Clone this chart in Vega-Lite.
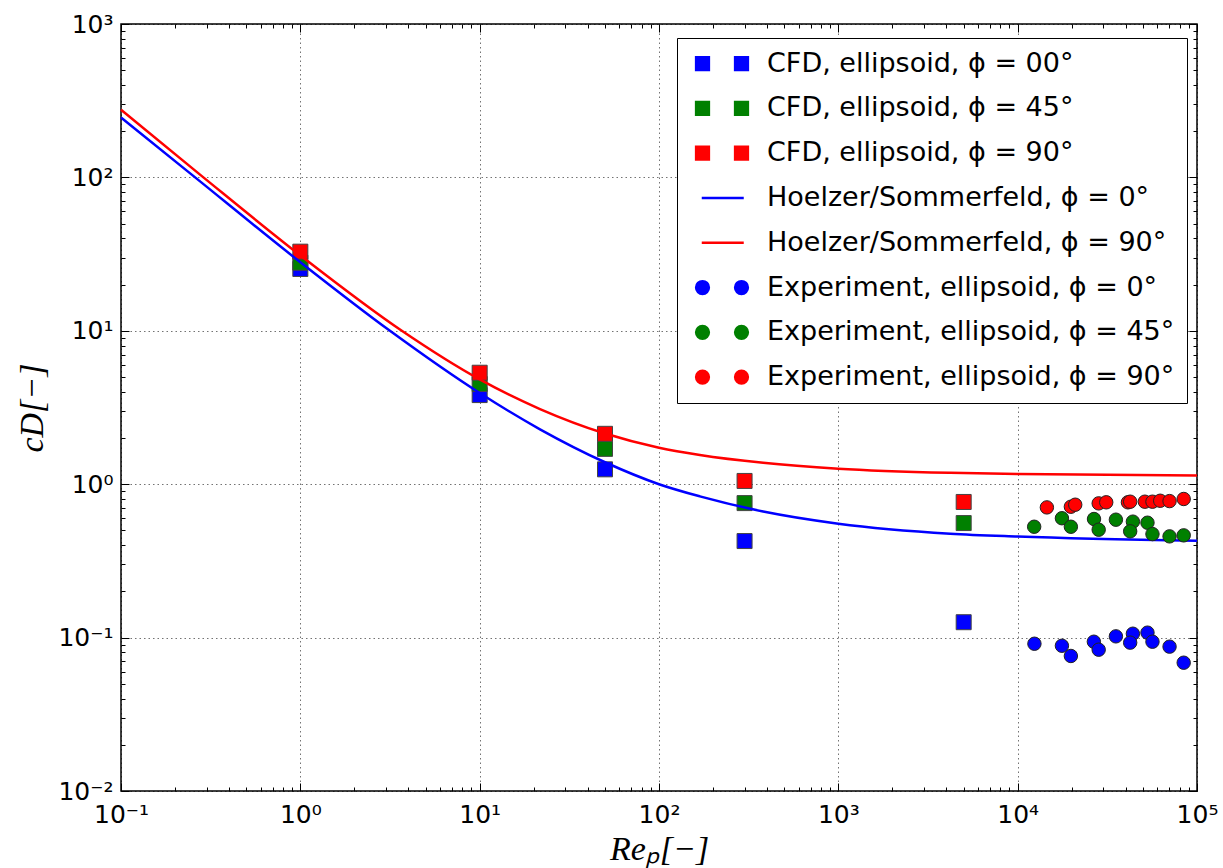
{
  "$schema": "https://vega.github.io/schema/vega-lite/v6.json",
  "width": 1076,
  "height": 767,
  "autosize": {"type": "none"},
  "padding": {"left": 121, "top": 24, "right": 26, "bottom": 77},
  "background": "white",
  "datasets": {
    "cfd": [
      {"Re": 1, "cD": 25.3, "series": "CFD, ellipsoid, ϕ = 00°"},
      {"Re": 10, "cD": 3.81, "series": "CFD, ellipsoid, ϕ = 00°"},
      {"Re": 50, "cD": 1.25, "series": "CFD, ellipsoid, ϕ = 00°"},
      {"Re": 300, "cD": 0.426, "series": "CFD, ellipsoid, ϕ = 00°"},
      {"Re": 5000, "cD": 0.126, "series": "CFD, ellipsoid, ϕ = 00°"},
      {"Re": 1, "cD": 27.8, "series": "CFD, ellipsoid, ϕ = 45°"},
      {"Re": 10, "cD": 4.5, "series": "CFD, ellipsoid, ϕ = 45°"},
      {"Re": 50, "cD": 1.7, "series": "CFD, ellipsoid, ϕ = 45°"},
      {"Re": 300, "cD": 0.753, "series": "CFD, ellipsoid, ϕ = 45°"},
      {"Re": 5000, "cD": 0.558, "series": "CFD, ellipsoid, ϕ = 45°"},
      {"Re": 1, "cD": 32.8, "series": "CFD, ellipsoid, ϕ = 90°"},
      {"Re": 10, "cD": 5.33, "series": "CFD, ellipsoid, ϕ = 90°"},
      {"Re": 50, "cD": 2.13, "series": "CFD, ellipsoid, ϕ = 90°"},
      {"Re": 300, "cD": 1.05, "series": "CFD, ellipsoid, ϕ = 90°"},
      {"Re": 5000, "cD": 0.766, "series": "CFD, ellipsoid, ϕ = 90°"}
    ],
    "hoelzer": [
      {"Re": 0.1, "cD": 246, "series": "Hoelzer/Sommerfeld, ϕ = 0°"},
      {"Re": 0.259, "cD": 100, "series": "Hoelzer/Sommerfeld, ϕ = 0°"},
      {"Re": 1, "cD": 28, "series": "Hoelzer/Sommerfeld, ϕ = 0°"},
      {"Re": 3.16, "cD": 10, "series": "Hoelzer/Sommerfeld, ϕ = 0°"},
      {"Re": 10, "cD": 3.93, "series": "Hoelzer/Sommerfeld, ϕ = 0°"},
      {"Re": 21.7, "cD": 2.28, "series": "Hoelzer/Sommerfeld, ϕ = 0°"},
      {"Re": 50, "cD": 1.39, "series": "Hoelzer/Sommerfeld, ϕ = 0°"},
      {"Re": 100, "cD": 1.0, "series": "Hoelzer/Sommerfeld, ϕ = 0°"},
      {"Re": 169, "cD": 0.833, "series": "Hoelzer/Sommerfeld, ϕ = 0°"},
      {"Re": 381, "cD": 0.664, "series": "Hoelzer/Sommerfeld, ϕ = 0°"},
      {"Re": 1000, "cD": 0.553, "series": "Hoelzer/Sommerfeld, ϕ = 0°"},
      {"Re": 4207, "cD": 0.476, "series": "Hoelzer/Sommerfeld, ϕ = 0°"},
      {"Re": 10000, "cD": 0.456, "series": "Hoelzer/Sommerfeld, ϕ = 0°"},
      {"Re": 100000, "cD": 0.428, "series": "Hoelzer/Sommerfeld, ϕ = 0°"},
      {"Re": 0.1, "cD": 276, "series": "Hoelzer/Sommerfeld, ϕ = 90°"},
      {"Re": 0.288, "cD": 100, "series": "Hoelzer/Sommerfeld, ϕ = 90°"},
      {"Re": 1, "cD": 31, "series": "Hoelzer/Sommerfeld, ϕ = 90°"},
      {"Re": 3.68, "cD": 10, "series": "Hoelzer/Sommerfeld, ϕ = 90°"},
      {"Re": 10, "cD": 4.82, "series": "Hoelzer/Sommerfeld, ϕ = 90°"},
      {"Re": 21.7, "cD": 3.09, "series": "Hoelzer/Sommerfeld, ϕ = 90°"},
      {"Re": 50, "cD": 2.14, "series": "Hoelzer/Sommerfeld, ϕ = 90°"},
      {"Re": 100, "cD": 1.73, "series": "Hoelzer/Sommerfeld, ϕ = 90°"},
      {"Re": 169, "cD": 1.55, "series": "Hoelzer/Sommerfeld, ϕ = 90°"},
      {"Re": 381, "cD": 1.378, "series": "Hoelzer/Sommerfeld, ϕ = 90°"},
      {"Re": 1000, "cD": 1.262, "series": "Hoelzer/Sommerfeld, ϕ = 90°"},
      {"Re": 4207, "cD": 1.186, "series": "Hoelzer/Sommerfeld, ϕ = 90°"},
      {"Re": 10000, "cD": 1.165, "series": "Hoelzer/Sommerfeld, ϕ = 90°"},
      {"Re": 100000, "cD": 1.141, "series": "Hoelzer/Sommerfeld, ϕ = 90°"}
    ],
    "experiment": [
      {"Re": 12400, "cD": 0.0912, "series": "Experiment, ellipsoid, ϕ = 0°"},
      {"Re": 17650, "cD": 0.0885, "series": "Experiment, ellipsoid, ϕ = 0°"},
      {"Re": 19800, "cD": 0.0759, "series": "Experiment, ellipsoid, ϕ = 0°"},
      {"Re": 26600, "cD": 0.094, "series": "Experiment, ellipsoid, ϕ = 0°"},
      {"Re": 28300, "cD": 0.0834, "series": "Experiment, ellipsoid, ϕ = 0°"},
      {"Re": 35300, "cD": 0.1019, "series": "Experiment, ellipsoid, ϕ = 0°"},
      {"Re": 43900, "cD": 0.106, "series": "Experiment, ellipsoid, ϕ = 0°"},
      {"Re": 42400, "cD": 0.0927, "series": "Experiment, ellipsoid, ϕ = 0°"},
      {"Re": 52950, "cD": 0.1077, "series": "Experiment, ellipsoid, ϕ = 0°"},
      {"Re": 56450, "cD": 0.094, "series": "Experiment, ellipsoid, ϕ = 0°"},
      {"Re": 70300, "cD": 0.0873, "series": "Experiment, ellipsoid, ϕ = 0°"},
      {"Re": 84300, "cD": 0.0686, "series": "Experiment, ellipsoid, ϕ = 0°"},
      {"Re": 12360, "cD": 0.528, "series": "Experiment, ellipsoid, ϕ = 45°"},
      {"Re": 17650, "cD": 0.6, "series": "Experiment, ellipsoid, ϕ = 45°"},
      {"Re": 19800, "cD": 0.528, "series": "Experiment, ellipsoid, ϕ = 45°"},
      {"Re": 26650, "cD": 0.593, "series": "Experiment, ellipsoid, ϕ = 45°"},
      {"Re": 28300, "cD": 0.505, "series": "Experiment, ellipsoid, ϕ = 45°"},
      {"Re": 35300, "cD": 0.587, "series": "Experiment, ellipsoid, ϕ = 45°"},
      {"Re": 43900, "cD": 0.57, "series": "Experiment, ellipsoid, ϕ = 45°"},
      {"Re": 42400, "cD": 0.493, "series": "Experiment, ellipsoid, ϕ = 45°"},
      {"Re": 52950, "cD": 0.561, "series": "Experiment, ellipsoid, ϕ = 45°"},
      {"Re": 56450, "cD": 0.473, "series": "Experiment, ellipsoid, ϕ = 45°"},
      {"Re": 70300, "cD": 0.457, "series": "Experiment, ellipsoid, ϕ = 45°"},
      {"Re": 84300, "cD": 0.464, "series": "Experiment, ellipsoid, ϕ = 45°"},
      {"Re": 14550, "cD": 0.706, "series": "Experiment, ellipsoid, ϕ = 90°"},
      {"Re": 19800, "cD": 0.713, "series": "Experiment, ellipsoid, ϕ = 90°"},
      {"Re": 20940, "cD": 0.735, "series": "Experiment, ellipsoid, ϕ = 90°"},
      {"Re": 28300, "cD": 0.75, "series": "Experiment, ellipsoid, ϕ = 90°"},
      {"Re": 31180, "cD": 0.762, "series": "Experiment, ellipsoid, ϕ = 90°"},
      {"Re": 41200, "cD": 0.762, "series": "Experiment, ellipsoid, ϕ = 90°"},
      {"Re": 42400, "cD": 0.769, "series": "Experiment, ellipsoid, ϕ = 90°"},
      {"Re": 51200, "cD": 0.769, "series": "Experiment, ellipsoid, ϕ = 90°"},
      {"Re": 56450, "cD": 0.769, "series": "Experiment, ellipsoid, ϕ = 90°"},
      {"Re": 62350, "cD": 0.78, "series": "Experiment, ellipsoid, ϕ = 90°"},
      {"Re": 70300, "cD": 0.776, "series": "Experiment, ellipsoid, ϕ = 90°"},
      {"Re": 84300, "cD": 0.801, "series": "Experiment, ellipsoid, ϕ = 90°"}
    ]
  },
  "encoding": {
    "color": {
      "field": "series",
      "type": "nominal",
      "scale": {
        "domain": [
          "CFD, ellipsoid, ϕ = 00°",
          "CFD, ellipsoid, ϕ = 45°",
          "CFD, ellipsoid, ϕ = 90°",
          "Hoelzer/Sommerfeld, ϕ = 0°",
          "Hoelzer/Sommerfeld, ϕ = 90°",
          "Experiment, ellipsoid, ϕ = 0°",
          "Experiment, ellipsoid, ϕ = 45°",
          "Experiment, ellipsoid, ϕ = 90°"
        ],
        "range": ["#0000ff", "#008000", "#ff0000", "#0000ff", "#ff0000", "#0000ff", "#008000", "#ff0000"]
      },
      "legend": {
        "orient": "none",
        "legendX": 556,
        "legendY": 14,
        "title": null,
        "labelFont": "DejaVu Sans",
        "labelFontSize": 27,
        "labelColor": "#000",
        "labelLimit": 0,
        "labelOffset": 51,
        "symbolSize": 225,
        "symbolStrokeWidth": 2.5,
        "symbolOpacity": 1,
        "rowPadding": 16.8,
        "padding": 12,
        "strokeColor": "#000",
        "fillColor": "#fff"
      }
    }
  },
  "layer": [
    {
      "data": {"name": "cfd"},
      "transform": [{"filter": "datum.Re < 0"}],
      "mark": {"type": "point", "filled": true, "opacity": 1},
      "encoding": {
        "x": {"field": "Re", "type": "quantitative", "scale": {"type": "log", "domain": [0.1, 100000], "nice": false}, "axis": null},
        "y": {"field": "cD", "type": "quantitative", "scale": {"type": "log", "domain": [0.01, 1000], "nice": false}, "axis": null},
        "shape": {
          "field": "series",
          "type": "nominal",
          "scale": {
            "domain": [
              "CFD, ellipsoid, ϕ = 00°",
              "CFD, ellipsoid, ϕ = 45°",
              "CFD, ellipsoid, ϕ = 90°",
              "Hoelzer/Sommerfeld, ϕ = 0°",
              "Hoelzer/Sommerfeld, ϕ = 90°",
              "Experiment, ellipsoid, ϕ = 0°",
              "Experiment, ellipsoid, ϕ = 45°",
              "Experiment, ellipsoid, ϕ = 90°"
            ],
            "range": [
              "M-0.85,-0.85H0.85V0.85H-0.85Z M4.35,-0.85H6.05V0.85H4.35Z",
              "M-0.85,-0.85H0.85V0.85H-0.85Z M4.35,-0.85H6.05V0.85H4.35Z",
              "M-0.85,-0.85H0.85V0.85H-0.85Z M4.35,-0.85H6.05V0.85H4.35Z",
              "M-0.1,0H5.5",
              "M-0.1,0H5.5",
              "M0.85,0A0.85,0.85 0 1 1 -0.85,0A0.85,0.85 0 1 1 0.85,0Z M6.05,0A0.85,0.85 0 1 1 4.35,0A0.85,0.85 0 1 1 6.05,0Z",
              "M0.85,0A0.85,0.85 0 1 1 -0.85,0A0.85,0.85 0 1 1 0.85,0Z M6.05,0A0.85,0.85 0 1 1 4.35,0A0.85,0.85 0 1 1 6.05,0Z",
              "M0.85,0A0.85,0.85 0 1 1 -0.85,0A0.85,0.85 0 1 1 0.85,0Z M6.05,0A0.85,0.85 0 1 1 4.35,0A0.85,0.85 0 1 1 6.05,0Z"
            ]
          },
          "legend": {
            "orient": "none",
            "legendX": 556,
            "legendY": 14,
            "title": null,
            "labelFont": "DejaVu Sans",
            "labelFontSize": 27,
            "labelColor": "#000",
            "labelLimit": 0,
            "labelOffset": 51,
            "symbolSize": 225,
            "symbolStrokeWidth": 2.5,
            "symbolOpacity": 1,
            "rowPadding": 16.8,
            "padding": 12,
            "strokeColor": "#000",
            "fillColor": "#fff"
          }
        }
      }
    },
    {
      "data": {"name": "cfd"},
      "mark": {"type": "point", "shape": "square", "filled": true, "size": 225, "opacity": 1, "stroke": "#444444", "strokeWidth": 1},
      "encoding": {
        "x": {
          "field": "Re", "type": "quantitative",
          "scale": {"type": "log", "domain": [0.1, 100000], "nice": false},
          "axis": {
            "orient": "bottom",
            "values": [0.1, 1, 10, 100, 1000, 10000, 100000],
            "labelExpr": "'10' + (datum.value < 0.05 ? '⁻²' : datum.value < 0.5 ? '⁻¹' : datum.value < 5 ? '⁰' : datum.value < 50 ? '¹' : datum.value < 500 ? '²' : datum.value < 5000 ? '³' : datum.value < 50000 ? '⁴' : '⁵')",
            "tickSize": -8,
            "labelPadding": 19,
            "labelFlush": false,
            "labelOverlap": false,
            "grid": true,
            "gridColor": "#000",
            "gridOpacity": 0.55,
            "gridDash": [1.5, 3],
            "gridWidth": 1,
            "title": "Reₚ[−]",
            "titleFont": "Liberation Serif",
            "titleFontStyle": "italic",
            "titleFontWeight": "normal",
            "titleFontSize": 34,
            "titlePadding": 5
          }
        },
        "y": {
          "field": "cD", "type": "quantitative",
          "scale": {"type": "log", "domain": [0.01, 1000], "nice": false},
          "axis": {
            "orient": "left",
            "values": [0.01, 0.1, 1, 10, 100, 1000],
            "labelExpr": "'10' + (datum.value < 0.05 ? '⁻²' : datum.value < 0.5 ? '⁻¹' : datum.value < 5 ? '⁰' : datum.value < 50 ? '¹' : datum.value < 500 ? '²' : datum.value < 5000 ? '³' : datum.value < 50000 ? '⁴' : '⁵')",
            "tickSize": -8,
            "labelPadding": 16,
            "labelFlush": false,
            "labelOverlap": false,
            "grid": true,
            "gridColor": "#000",
            "gridOpacity": 0.55,
            "gridDash": [1.5, 3],
            "gridWidth": 1,
            "title": "cD[−]",
            "titleFont": "Liberation Serif",
            "titleFontStyle": "italic",
            "titleFontWeight": "normal",
            "titleFontSize": 34,
            "titlePadding": 8
          }
        }
      }
    },
    {
      "data": {"name": "hoelzer"},
      "transform": [{"filter": "datum.series === 'Hoelzer/Sommerfeld, ϕ = 0°'"}],
      "mark": {"type": "line", "strokeWidth": 2.5, "interpolate": "monotone", "opacity": 1},
      "encoding": {
        "x": {
          "field": "Re", "type": "quantitative",
          "scale": {"type": "log", "domain": [0.1, 100000], "nice": false},
          "axis": {"orient": "top", "values": [0.1, 1, 10, 100, 1000, 10000, 100000], "labels": false, "tickSize": -8, "grid": false, "title": null}
        },
        "y": {
          "field": "cD", "type": "quantitative",
          "scale": {"type": "log", "domain": [0.01, 1000], "nice": false},
          "axis": {"orient": "right", "values": [0.01, 0.1, 1, 10, 100, 1000], "labels": false, "tickSize": -8, "grid": false, "title": null}
        }
      }
    },
    {
      "data": {"name": "hoelzer"},
      "transform": [{"filter": "datum.series === 'Hoelzer/Sommerfeld, ϕ = 90°'"}],
      "mark": {"type": "line", "strokeWidth": 2.5, "interpolate": "monotone", "opacity": 1},
      "encoding": {
        "x": {
          "field": "Re", "type": "quantitative",
          "scale": {"type": "log", "domain": [0.1, 100000], "nice": false},
          "axis": {"orient": "bottom", "values": [0.2, 0.3, 0.4, 0.5, 0.6, 0.7, 0.8, 0.9, 2, 3, 4, 5, 6, 7, 8, 9, 20, 30, 40, 50, 60, 70, 80, 90, 200, 300, 400, 500, 600, 700, 800, 900, 2000, 3000, 4000, 5000, 6000, 7000, 8000, 9000, 20000, 30000, 40000, 50000, 60000, 70000, 80000, 90000], "labels": false, "tickSize": -4, "grid": false, "title": null}
        },
        "y": {
          "field": "cD", "type": "quantitative",
          "scale": {"type": "log", "domain": [0.01, 1000], "nice": false},
          "axis": {"orient": "left", "values": [0.02, 0.03, 0.04, 0.05, 0.06, 0.07, 0.08, 0.09, 0.2, 0.3, 0.4, 0.5, 0.6, 0.7, 0.8, 0.9, 2, 3, 4, 5, 6, 7, 8, 9, 20, 30, 40, 50, 60, 70, 80, 90, 200, 300, 400, 500, 600, 700, 800, 900], "labels": false, "tickSize": -4, "grid": false, "title": null}
        }
      }
    },
    {
      "data": {"name": "experiment"},
      "mark": {"type": "circle", "size": 180, "opacity": 1, "stroke": "#222222", "strokeWidth": 1},
      "encoding": {
        "x": {
          "field": "Re", "type": "quantitative",
          "scale": {"type": "log", "domain": [0.1, 100000], "nice": false},
          "axis": {"orient": "top", "values": [0.2, 0.3, 0.4, 0.5, 0.6, 0.7, 0.8, 0.9, 2, 3, 4, 5, 6, 7, 8, 9, 20, 30, 40, 50, 60, 70, 80, 90, 200, 300, 400, 500, 600, 700, 800, 900, 2000, 3000, 4000, 5000, 6000, 7000, 8000, 9000, 20000, 30000, 40000, 50000, 60000, 70000, 80000, 90000], "labels": false, "tickSize": -4, "grid": false, "title": null}
        },
        "y": {
          "field": "cD", "type": "quantitative",
          "scale": {"type": "log", "domain": [0.01, 1000], "nice": false},
          "axis": {"orient": "right", "values": [0.02, 0.03, 0.04, 0.05, 0.06, 0.07, 0.08, 0.09, 0.2, 0.3, 0.4, 0.5, 0.6, 0.7, 0.8, 0.9, 2, 3, 4, 5, 6, 7, 8, 9, 20, 30, 40, 50, 60, 70, 80, 90, 200, 300, 400, 500, 600, 700, 800, 900], "labels": false, "tickSize": -4, "grid": false, "title": null}
        }
      }
    }
  ],
  "resolve": {"axis": {"x": "independent", "y": "independent"}},
  "config": {
    "view": {"stroke": "#000", "strokeWidth": 1.5},
    "axis": {
      "domain": false,
      "tickColor": "#000",
      "tickWidth": 1,
      "labelFont": "DejaVu Sans",
      "labelFontSize": 25,
      "labelColor": "#000",
      "titleColor": "#000"
    }
  }
}
